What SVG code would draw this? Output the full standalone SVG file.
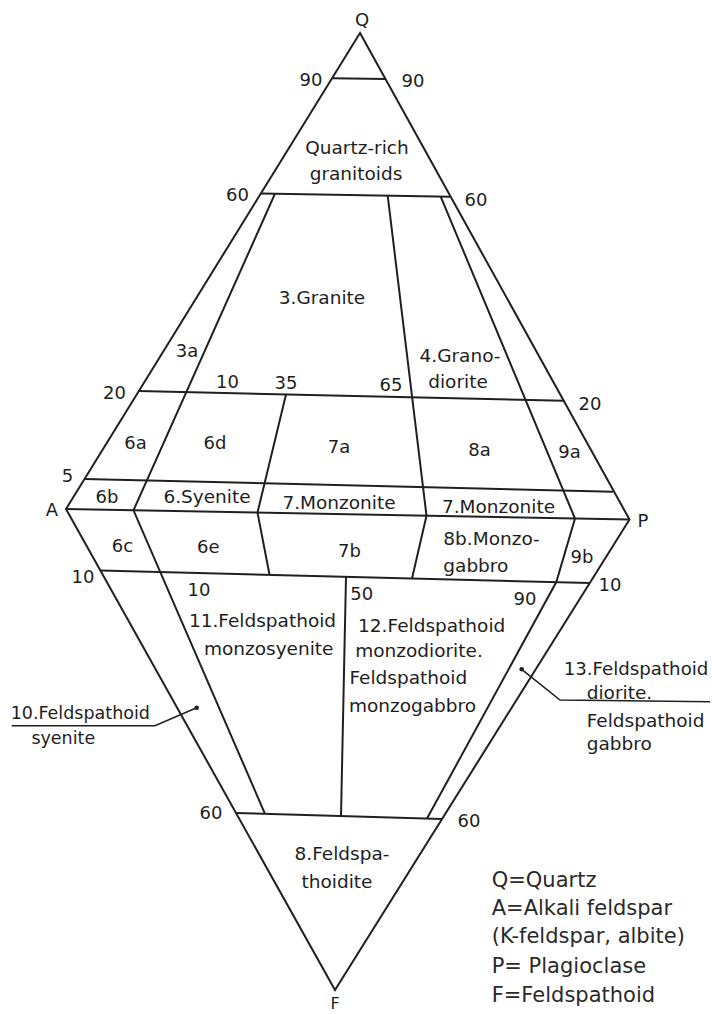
<svg xmlns="http://www.w3.org/2000/svg" width="712" height="1014" viewBox="0 0 712 1014">
<style>
.ln{fill:none;stroke:#202020;stroke-width:2;stroke-linejoin:miter}
.t{font-family:"DejaVu Sans","Liberation Sans",sans-serif;font-size:18.5px;fill:#1e1e1e;text-anchor:middle}
.n{font-family:"DejaVu Sans","Liberation Sans",sans-serif;font-size:18px;fill:#1e1e1e;text-anchor:middle}
.s{text-anchor:start}
.lg{font-family:"DejaVu Sans","Liberation Sans",sans-serif;font-size:21px;fill:#2a2a2a}
.dot{fill:#202020}
</style>
<rect width="712" height="1014" fill="#ffffff"/>
<g id="connectors">
  <polygon class="ln" points="360,33 66,509 335,990 629.5,519.5"/>
  <path class="ln" d="M332,78.3 L385.5,79"/>
  <path class="ln" d="M260.9,193.5 L450.7,196.8"/>
  <path class="ln" d="M138.9,391 L563.7,400.7"/>
  <path class="ln" d="M84.5,479 L613,491.7"/>
  <path class="ln" d="M66,509 L629.5,519.5"/>
  <path class="ln" d="M100.4,570.5 L589.8,583"/>
  <path class="ln" d="M236,813 L442,819"/>
  <path class="ln" d="M275,193.7 L133.5,510.3 L265,813.8"/>
  <path class="ln" d="M286,394.4 L257.5,512.6 L269.5,574.8"/>
  <path class="ln" d="M387.7,195.7 L426.5,515.7 L412,578.5"/>
  <path class="ln" d="M440.7,196.6 L575,518.5 L556.3,582.1 L427,818.6"/>
  <path class="ln" d="M346,576.8 L341,816.1"/>
  <path class="ln" style="stroke-width:1.6" d="M11.7,725.7 L155,725.7 L196.7,707.7"/>
  <circle class="dot" cx="196.7" cy="707.7" r="2.3"/>
  <path class="ln" style="stroke-width:1.6" d="M521.7,669.3 L560,700 L710,701.7"/>
  <circle class="dot" cx="521.7" cy="669.3" r="2.3"/>
</g>
<g id="vertices">
  <text class="n" x="362" y="26">Q</text>
  <text class="n" x="52" y="516">A</text>
  <text class="n" x="643" y="527">P</text>
  <text class="n" x="335" y="1009" style="font-size:16px">F</text>
</g>
<g id="ticks">
  <text class="n" x="311" y="86">90</text>
  <text class="n" x="413" y="87">90</text>
  <text class="n" x="237.5" y="200.7">60</text>
  <text class="n" x="476" y="206">60</text>
  <text class="n" x="114.5" y="399">20</text>
  <text class="n" x="590" y="410">20</text>
  <text class="n" x="227.5" y="387.7">10</text>
  <text class="n" x="286" y="389">35</text>
  <text class="n" x="391" y="391">65</text>
  <text class="n" x="67.5" y="481.7">5</text>
  <text class="n" x="83" y="583.3">10</text>
  <text class="n" x="610" y="590.7">10</text>
  <text class="n" x="199" y="596">10</text>
  <text class="n" x="361.7" y="600">50</text>
  <text class="n" x="525" y="605">90</text>
  <text class="n" x="211" y="819">60</text>
  <text class="n" x="469" y="826.7">60</text>
</g>
<g id="quartz-rich">
  <text class="t" x="357" y="154">Quartz-rich</text>
  <text class="t" x="356" y="180">granitoids</text>
</g>
<g id="granite"><text class="t" x="322" y="304">3.Granite</text></g>
<g id="r3a"><text class="n" x="187" y="356.7">3a</text></g>
<g id="granodiorite">
  <text class="t" x="460" y="361.7">4.Grano-</text>
  <text class="t" x="458" y="388">diorite</text>
</g>
<g id="r6a"><text class="n" x="135.5" y="448.5">6a</text></g>
<g id="r6d"><text class="n" x="215" y="449">6d</text></g>
<g id="r7a"><text class="n" x="339" y="452.7">7a</text></g>
<g id="r8a"><text class="n" x="479.5" y="456">8a</text></g>
<g id="r9a"><text class="n" x="569.5" y="458">9a</text></g>
<g id="r6b"><text class="n" x="107" y="502.7">6b</text></g>
<g id="syenite"><text class="t" x="207" y="503.3">6.Syenite</text></g>
<g id="monzonite1"><text class="t" x="339" y="508.5">7.Monzonite</text></g>
<g id="monzonite2"><text class="t" x="498.5" y="513.3">7.Monzonite</text></g>
<g id="r6c"><text class="n" x="122.5" y="551.7">6c</text></g>
<g id="r6e"><text class="n" x="208.3" y="553.3">6e</text></g>
<g id="r7b"><text class="n" x="349.5" y="557">7b</text></g>
<g id="monzogabbro">
  <text class="t s" x="443.3" y="545">8b.Monzo-</text>
  <text class="t s" x="443.3" y="571.7">gabbro</text>
</g>
<g id="r9b"><text class="n" x="582" y="563.3">9b</text></g>
<g id="f-monzosyenite">
  <text class="t" x="262.5" y="626.7">11.Feldspathoid</text>
  <text class="t" x="268.7" y="655">monzosyenite</text>
</g>
<g id="f-monzodiorite">
  <text class="t" x="431.7" y="631.7">12.Feldspathoid</text>
  <text class="t" x="419" y="657">monzodiorite.</text>
  <text class="t" x="408.3" y="684">Feldspathoid</text>
  <text class="t" x="412.5" y="711.7">monzogabbro</text>
</g>
<g id="f-syenite">
  <text class="t" x="80.3" y="719.3" style="font-size:17.5px">10.Feldspathoid</text>
  <text class="t" x="63.3" y="744.3" style="font-size:17.5px">syenite</text>
</g>
<g id="f-diorite">
  <text class="t" x="636" y="675" style="font-size:18.2px">13.Feldspathoid</text>
  <text class="t s" x="586.7" y="699">diorite.</text>
  <text class="t s" x="586.7" y="727">Feldspathoid</text>
  <text class="t s" x="586.7" y="750">gabbro</text>
</g>
<g id="foidolite">
  <text class="t" x="342" y="860">8.Feldspa-</text>
  <text class="t" x="337" y="888">thoidite</text>
</g>
<g id="legend">
  <text class="lg" x="491.7" y="887.3">Q=Quartz</text>
  <text class="lg" x="491.7" y="915">A=Alkali feldspar</text>
  <text class="lg" x="491.7" y="942.7">(K-feldspar, albite)</text>
  <text class="lg" x="491.7" y="973.3">P= Plagioclase</text>
  <text class="lg" x="491.7" y="1001.7">F=Feldspathoid</text>
</g>
</svg>
